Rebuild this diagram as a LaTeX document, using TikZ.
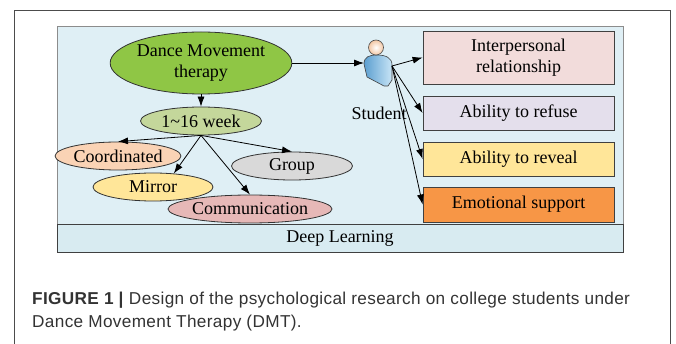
\documentclass[tikz,border=0pt]{standalone}
\usepackage{fontspec}
\setmainfont{Liberation Serif}
\newfontfamily\capfont[LetterSpace=2]{Liberation Sans}
\usetikzlibrary{shapes.geometric,arrows.meta}

\definecolor{panelblue}{HTML}{DFEFF5}
\definecolor{barblue}{HTML}{D8EBF1}
\definecolor{dmtgreen}{HTML}{8FC645}
\definecolor{wkgreen}{HTML}{C4D79B}
\definecolor{coordpeach}{HTML}{FAD3B5}
\definecolor{mirroryellow}{HTML}{FFE699}
\definecolor{commpink}{HTML}{E6B8B7}
\definecolor{groupgray}{HTML}{D9D9D9}
\definecolor{ippink}{HTML}{F2DCDB}
\definecolor{reflav}{HTML}{E4DFEC}
\definecolor{revyellow}{HTML}{FFE699}
\definecolor{emoorange}{HTML}{F79646}
\definecolor{captext}{HTML}{333333}
\definecolor{bodydark}{HTML}{5C9FD0}
\definecolor{bodylight}{HTML}{C8E5F6}
\definecolor{headskin}{HTML}{F3C7A4}

\begin{document}
\begin{tikzpicture}[x=1pt,y=-1pt,
  every node/.style={inner sep=0pt, font=\fontsize{18}{21}\selectfont},
  ell/.style={ellipse, draw=black!80, line width=0.8pt, minimum height=28},
  box/.style={rectangle, draw=black!75, line width=0.8pt, minimum width=191},
  arr/.style={-{Latex[length=10pt,width=7pt]}, line width=0.8pt},
  capline/.style={anchor=base west, text=captext, font=\capfont\fontsize{17.2}{23}\selectfont}]
\useasboundingbox (0,0) rectangle (676,344);
\draw [black!70] (14,344) -- (14,10) -- (670,10) -- (670,344);
\draw [black!45, fill=panelblue] (57,26) rectangle (623,224);
\node [draw=black!75, fill=barblue, line width=0.8pt, minimum width=566, minimum height=28] (dl) at (340,238) {Deep Learning};
% left side
\node [ell, fill=dmtgreen, minimum width=171, minimum height=62, align=center] (dmt) at (201,63) {Dance Movement\\therapy};
\node [ell, fill=wkgreen, minimum width=121] (wk) at (201,121) {1\textasciitilde 16 week};
\node [ell, fill=coordpeach, minimum width=120] (coord) at (118,156) {Coordinated};
\node [ell, fill=mirroryellow, minimum width=120] (mirror) at (153,187) {Mirror};
\node [ell, fill=commpink, minimum width=156] (comm) at (250,209) {Communication};
\node [ell, fill=groupgray, minimum width=121] (group) at (292,166) {Group};
% right side
\node [box, fill=ippink, minimum height=53, align=center] (ip) at (518.5,57.5) {Interpersonal\\relationship};
\node [box, fill=reflav, minimum height=34] (ref) at (518.5,113) {Ability to refuse};
\node [box, fill=revyellow, minimum height=34] (rev) at (518.5,159) {Ability to reveal};
\node [box, fill=emoorange, minimum height=35] (emo) at (518.5,204.5) {Emotional support};
% student icon
\draw [draw=black!75, line width=0.6pt, left color=bodydark, right color=bodylight] (364,64) .. controls (364,57) and (369,55) .. (377,55) .. controls (386,55) and (392,58) .. (392,65) -- (392,80) -- (388,86) -- (384,86) -- (367,77) -- cycle;
\draw [draw=black!70, line width=0.6pt, inner color=white, outer color=headskin] (376,47.5) circle (7.5);
\coordinate (stuin) at (364,63);
\coordinate (stuout) at (392,66);
\node (stu) at (379,113) {Student};
% arrows
\draw [arr] (dmt.south) -- (wk.north);
\draw [arr] (dmt.east) -- (stuin);
\draw [arr] (wk.south) -- (coord.north);
\draw [arr] (wk.south) -- (mirror.33);
\draw [arr] (wk.south) -- (comm.north);
\draw [arr] (wk.south) -- (group.north);
\draw [arr] (stuout) -- (ip.west);
\draw [arr] (stuout) -- (ref.west);
\draw [arr] (stuout) -- (rev.west);
\draw [arr] (stuout) -- (emo.west);
% caption
\node [capline] (cap1) at (32,304) {\textbf{FIGURE 1 |} Design of the psychological research on college students under};
\node [capline] (cap2) at (32,327) {Dance Movement Therapy (DMT).};
\end{tikzpicture}
\end{document}
